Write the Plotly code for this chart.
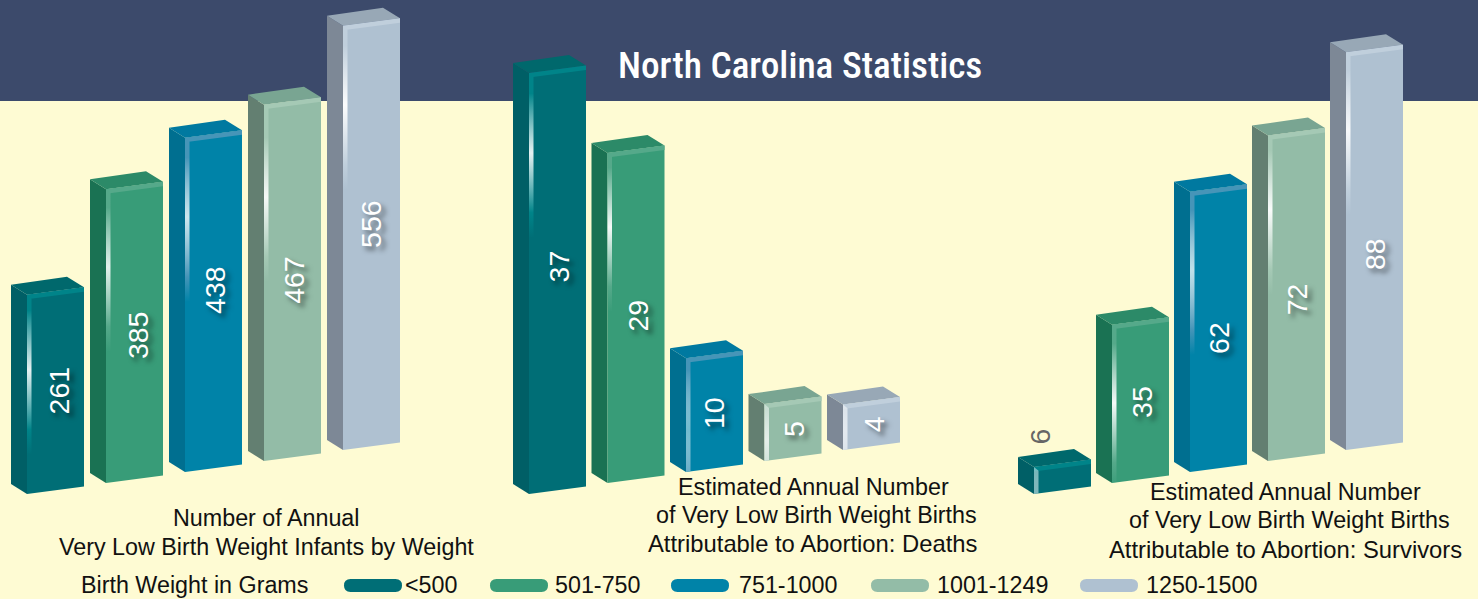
import plotly.graph_objects as go

W, H = 1478, 599

# ---------- data ----------
categories = ["<500", "501-750", "751-1000", "1001-1249", "1250-1500"]
annual_infants = [261, 385, 438, 467, 556]
abortion_deaths = [37, 29, 10, 5, 4]
abortion_survivors = [6, 35, 62, 72, 88]
legend_title = "Birth Weight in Grams"
main_title = "North Carolina Statistics"

# ---------- styling / layout (pixels and colours, not data) ----------
FRONT = ["#006e76", "#389c78", "#0083a8", "#93bca7", "#afc1d1"]
SIDE = ["#005f66", "#1a7253", "#006f90", "#637f71", "#7d8896"]
TOP = ["#00686c", "#2c8a68", "#0079a0", "#79a592", "#98a8b6"]
EDGE = ["#008489", "#55a98a", "#4695b8", "#a5c9b5", "#c0cfdc"]
EDGE_RGB = ["0,132,137", "85,169,138", "70,149,184", "165,201,181", "192,207,220"]

panels = [
    dict(values=annual_infants, x0=27, step=79.0, scale=0.763, base=494,
         glow=[370, 267, 217, 197, 105], strength=[0.9, 0.85, 0.8, 0.9, 0.95],
         nudge=[0, -3, 11, -1, 10], label_dx=[32, 32, 30, 30, 28]),
    dict(values=abortion_deaths, x0=529, step=78.5, scale=11.38, base=494,
         glow=[153, 227, 430, 440, 430], strength=[0.9, 0.95, 0.45, 0.75, 0.65],
         nudge=[13, -2, -2, -1, -1], label_dx=[30, 30, 28, 29, 31]),
    dict(values=abortion_survivors, x0=1034, step=78.0, scale=4.52, base=494,
         glow=[487, 403, 270, 210, 130], strength=[0.5, 0.95, 0.75, 0.95, 0.9],
         nudge=[40, -2, -10, -5, -7], label_dx=[6, 30, 29, 29, 29]),
]
captions = [
    ("Number of Annual", 266, 518, 23.3), ("Very Low Birth Weight Infants by Weight", 266, 547, 23.3),
    ("Estimated Annual Number", 813, 487, 23.3), ("of Very Low Birth Weight Births", 816, 515, 23.3),
    ("Attributable to Abortion: Deaths", 812, 543, 23.8),
    ("Estimated Annual Number", 1285, 492, 23.3), ("of Very Low Birth Weight Births", 1289, 520, 23.3),
    ("Attributable to Abortion: Survivors", 1285, 549, 23.8),
]
legend_pill_x = [344, 490, 671, 871, 1080]
legend_text_x = [403, 553, 737, 935, 1144]

FONT = "Liberation Sans"
TITLE_FONT = "Roboto Condensed, Liberation Sans Narrow, Roboto, Liberation Sans"
BG = "#fefbd3"
BAND = "#3c4a6b"
STRIP, TOP_BAND, BAR_W = 4.5, 4.5, 57
GLOW_HALF = 85
BASE_RISE = 11

fig = go.Figure()
annotations = []
shapes = [dict(type="rect", xref="paper", yref="paper", x0=0, x1=1, y0=1 - 101 / H, y1=1,
               fillcolor=BAND, line_width=0, layer="below")]


def poly(pts, color, xa, ya, gradient=None):
    kw = dict(fillgradient=gradient) if gradient else dict(fillcolor=color)
    fig.add_trace(go.Scatter(
        x=[p[0] for p in pts] + [pts[0][0]], y=[p[1] for p in pts] + [pts[0][1]],
        xaxis=xa, yaxis=ya, mode="lines", fill="toself", line=dict(width=0, color=color),
        hoverinfo="skip", showlegend=False, **kw))


for n, p in enumerate(panels):
    suffix = "" if n == 0 else str(n + 1)
    xa, ya = "x" + suffix, "y" + suffix
    s, step = p["scale"], p["step"]
    fig.update_layout({
        "xaxis" + suffix: dict(range=[-p["x0"] / step, (W - p["x0"]) / step], visible=False,
                               domain=[0, 1], anchor=ya, fixedrange=True),
        "yaxis" + suffix: dict(range=[-(H - p["base"]) / s, p["base"] / s], visible=False,
                               domain=[0, 1], anchor=xa, fixedrange=True),
    })
    for i, v in enumerate(p["values"]):
        b = i * BASE_RISE / s
        t = b + v

        def X(px):
            return i + px / step

        def Y(val, up=0.0):
            return val + up / s

        # side face
        poly([(X(-16), Y(b, 10)), (X(0), Y(b)), (X(0), Y(t)), (X(-16), Y(t, 10))], SIDE[i], xa, ya)
        # top face
        poly([(X(-16), Y(t, 10)), (X(0), Y(t)), (X(BAR_W), Y(t, 7.5)), (X(40), Y(t, 18))], TOP[i], xa, ya)
        # front face
        poly([(X(0), Y(b)), (X(BAR_W), Y(b, 7.5)), (X(BAR_W), Y(t, 7.5)), (X(0), Y(t))], FRONT[i], xa, ya)
        # light band along the top of the front face
        poly([(X(0), Y(t)), (X(BAR_W), Y(t, 7.5)), (X(BAR_W), Y(t, 7.5 - TOP_BAND)),
              (X(STRIP), Y(t, 0.7 - TOP_BAND)), (X(0), Y(t, -TOP_BAND))], EDGE[i], xa, ya)
        # glow strip at the front-left edge
        glow_y = (p["base"] - p["glow"][i]) / s
        g_low, g_high = glow_y - GLOW_HALF / s, glow_y + GLOW_HALF / s
        strip_low = max(b, g_low)
        rgb = EDGE_RGB[i]
        a = p["strength"][i]
        poly([(X(0), Y(strip_low)), (X(STRIP), Y(strip_low, 0.7)), (X(STRIP), Y(t, 0.7 - TOP_BAND)), (X(0), Y(t))],
             EDGE[i], xa, ya,
             gradient=dict(type="vertical", start=g_low, stop=g_high,
                           colorscale=[[0, f"rgba({rgb},0)"], [0.15, f"rgba({rgb},1)"],
                                       [0.5, f"rgba(255,255,255,{a})"], [0.85, f"rgba({rgb},1)"],
                                       [1, f"rgba({rgb},1)"]]))
        # value label
        outside = n == 2 and i == 0
        annotations.append(dict(
            x=X(p["label_dx"][i]), y=Y(b + v / 2, 4 + p["nudge"][i]), xref=xa, yref=ya, text=str(v),
            textangle=-90, showarrow=False, xanchor="center", yanchor="middle",
            font=dict(family=FONT, size=28.5, color="#666666" if outside else "#ffffff",
                      shadow="none" if outside else "-4px 4px 5px rgba(0,0,0,0.5)")))


def paper_text(text, px, py, size=23.3, family=FONT, color="#111111", anchor="center", weight=None):
    f = dict(family=family, size=size, color=color)
    if weight:
        f["weight"] = weight
    annotations.append(dict(text=text, x=px / W, y=1 - py / H, xref="paper", yref="paper",
                            showarrow=False, xanchor=anchor, yanchor="middle", font=f))


paper_text(main_title, 800, 65, size=37.3, family=TITLE_FONT, color="#ffffff", weight=500)
for text, px, py, size in captions:
    paper_text(text, px, py, size=size)
paper_text(legend_title, 79, 585, anchor="left")

PILL_W, PILL_H, PILL_Y = 58, 13, 585.5
for i, cat in enumerate(categories):
    x0 = legend_pill_x[i] / W
    x1 = (legend_pill_x[i] + PILL_W) / W
    rx = (PILL_H / 2) / W
    y0, y1 = 1 - (PILL_Y + PILL_H / 2) / H, 1 - (PILL_Y - PILL_H / 2) / H
    ym = (y0 + y1) / 2
    path = (f"M {x0 + rx},{y0} L {x1 - rx},{y0} Q {x1},{y0} {x1},{ym} "
            f"Q {x1},{y1} {x1 - rx},{y1} L {x0 + rx},{y1} "
            f"Q {x0},{y1} {x0},{ym} Q {x0},{y0} {x0 + rx},{y0} Z")
    shapes.append(dict(type="path", xref="paper", yref="paper", path=path,
                       fillcolor=FRONT[i], line_width=0))
    paper_text(cat, legend_text_x[i], 585, anchor="left")

fig.update_layout(width=W, height=H, margin=dict(l=0, r=0, t=0, b=0),
                  paper_bgcolor=BG, plot_bgcolor="rgba(0,0,0,0)", showlegend=False,
                  shapes=shapes, annotations=annotations)

fig.write_html("out.html", config=dict(displayModeBar=False),
               post_script="document.body.style.margin='0';document.body.style.overflow='hidden';")
